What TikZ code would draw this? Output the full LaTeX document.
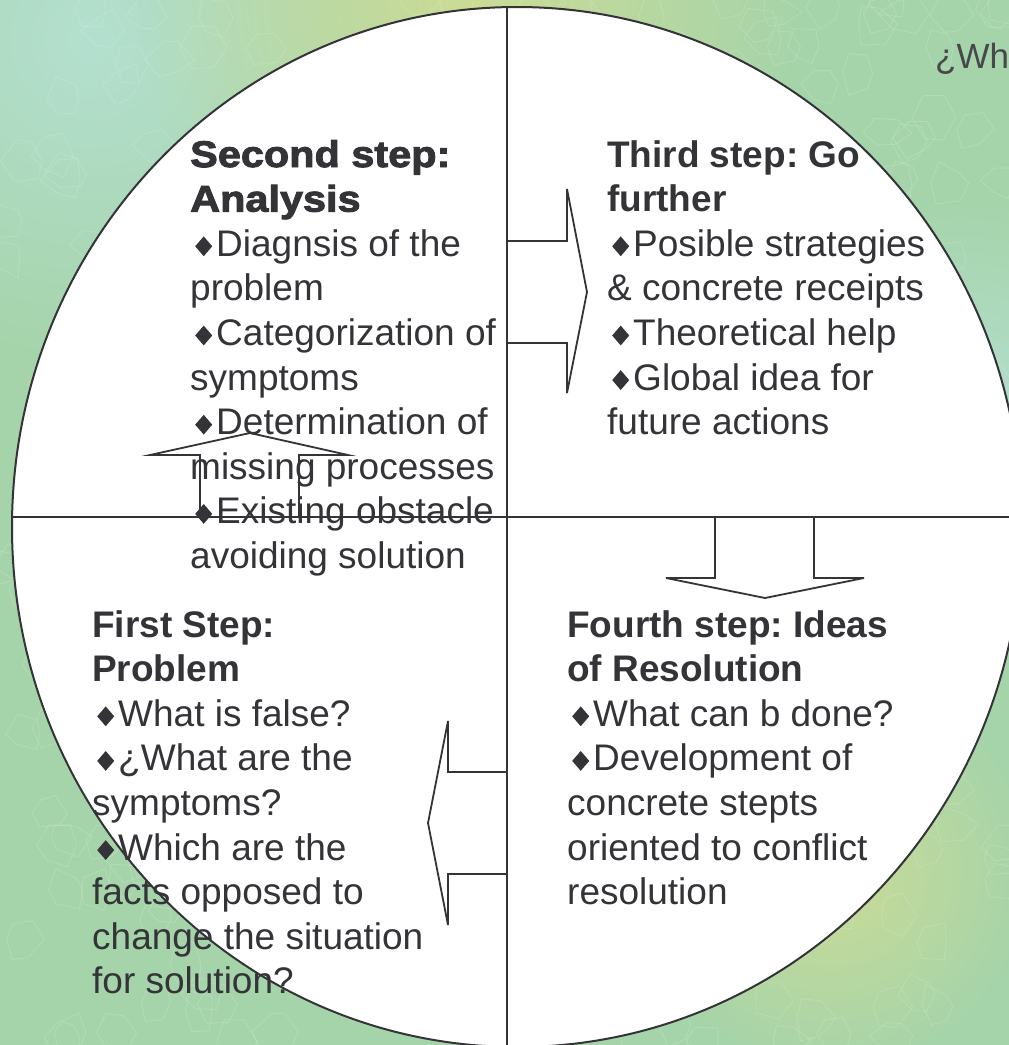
\documentclass[tikz,border=0pt]{standalone}
\usepackage{fontspec}
\setmainfont{Liberation Sans}
\newfontface\heavyface{Liberation Sans Bold}[FakeBold=2.6,FakeStretch=1.12]
\usetikzlibrary{fadings}

\definecolor{ink}{RGB}{51,51,56}
\definecolor{bgbase}{RGB}{166,212,170}
\definecolor{bgteal}{RGB}{180,224,208}
\definecolor{bgyellow}{RGB}{204,220,150}
\definecolor{crack}{RGB}{240,250,240}

\tikzfading[name=blob, inner color=transparent!0, outer color=transparent!100]

% diamond bullet and the text block of one quarter
\newcommand\dia{\hspace*{5pt}\scalebox{0.86}[1]{\rotatebox{45}{\rule{14pt}{14pt}}}\hspace{4pt}}
\newcommand\steplines[1]{\parbox[t]{440pt}{\raggedright\frenchspacing
    \fontsize{37}{44.6}\selectfont#1}}

\begin{document}
\begin{tikzpicture}[x=1pt, y=-1pt,
    rim/.style={draw=ink, line width=2pt},
    axis/.style={draw=ink, line width=1.8pt},
    blockarrow/.style={draw=ink, line width=1.8pt},
    steptext/.style={anchor=base west, inner sep=0pt, text=ink},
    cell/.style={draw=crack, line width=0.9pt, opacity=0.16}]

    % Marbled green background
    \useasboundingbox (0,0) rectangle (1009,1045);
    \clip (0,0) rectangle (1009,1045);
    \fill[bgbase] (0,0) rectangle (1009,1045);
    \fill[bgteal, path fading=blob] (90,40) circle (320);
    \fill[bgyellow, path fading=blob] (470,0) circle (330);
    \fill[bgyellow, path fading=blob] (830,870) circle (200);
    \fill[bgteal, path fading=blob] (960,420) circle (220);

    % Stone cells
    \pgfmathsetseed{42}
    \foreach \i in {1,...,420} {
        \pgfmathsetmacro\cx{rnd*1009}
        \pgfmathsetmacro\cy{rnd*1045}
        \draw[cell] (\cx,\cy) +(0:12+rnd*14) -- +(60:12+rnd*14)
            -- +(120:12+rnd*14) -- +(180:12+rnd*14)
            -- +(240:12+rnd*14) -- +(300:12+rnd*14) -- cycle;
    }

    % The white disc
    \coordinate (hub) at (517,527);
    \fill[white] (hub) ellipse [x radius=505, y radius=520];

    % Four quarters
    \node[steptext] (analysis) at (190,167) {\steplines{%
        {\heavyface Second step:}\\{\heavyface Analysis}\\
        \dia Diagnsis of the\\problem\\
        \dia Categorization of\\symptoms\\
        \dia Determination of\\missing processes\\
        \dia Existing obstacle\\avoiding solution}};
    \node[steptext] (further) at (607,167) {\steplines{%
        \textbf{Third step: Go}\\\textbf{further}\\
        \dia Posible strategies\\\& concrete receipts\\
        \dia Theoretical help\\
        \dia Global idea for\\future actions}};
    \node[steptext] (problem) at (92,637) {\steplines{%
        \textbf{First Step:}\\\textbf{Problem}\\
        \dia What is false?\\
        \dia ¿What are the\\symptoms?\\
        \dia Which are the\\facts opposed to\\change the situation\\for solution?}};
    \node[steptext] (resolution) at (567,637) {\steplines{%
        \textbf{Fourth step: Ideas}\\\textbf{of Resolution}\\
        \dia What can b done?\\
        \dia Development of\\concrete stepts\\oriented to conflict\\resolution}};

    \node[anchor=base west, inner sep=0pt, text=ink!90!white,
        font=\fontsize{35}{40}\selectfont] (heading) at (935,68) {¿Wh};

    % Rim and cross lines
    \draw[rim] (hub) ellipse [x radius=505, y radius=520];
    \coordinate (north) at (507,6);
    \coordinate (south) at (507,1045);
    \coordinate (west) at (12,517);
    \coordinate (east) at (1009,517);
    \draw[axis] (north) -- (south);
    \draw[axis] (west) -- (east);

    % Block arrows round the cycle
    \draw[blockarrow] (507,241) -- (567,241) -- (567,189) -- (587,292)
        -- (567,393) -- (567,343) -- (507,343);
    \draw[blockarrow] (715,517) -- (715,578) -- (666,578) -- (765,598)
        -- (864,578) -- (814,578) -- (814,517);
    \draw[blockarrow] (507,772) -- (448,772) -- (448,721) -- (428,823)
        -- (448,925) -- (448,874) -- (507,874);
    \draw[blockarrow] (200,517) -- (200,455) -- (150,455) -- (250,433)
        -- (348,455) -- (299,455) -- (299,517);
\end{tikzpicture}
\end{document}
